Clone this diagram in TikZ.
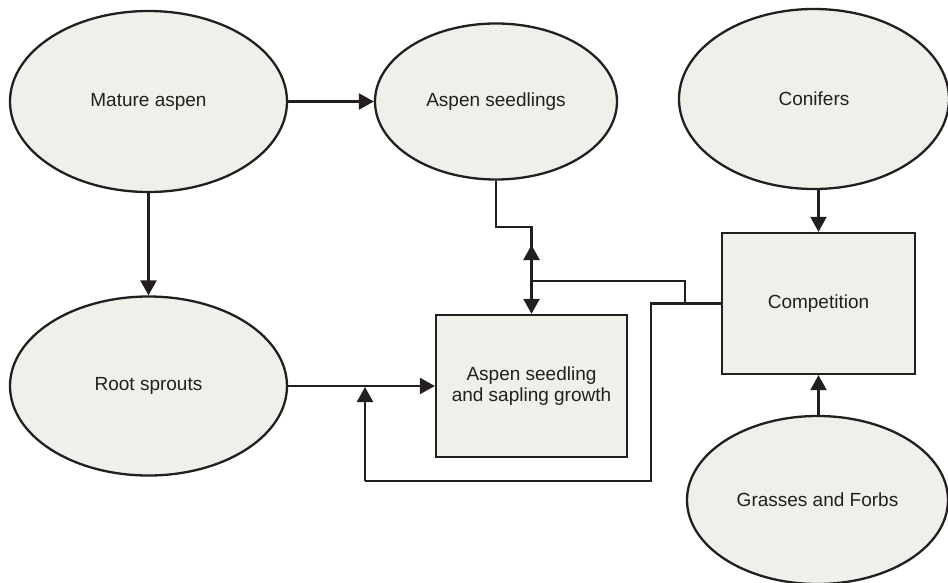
\documentclass[tikz,border=0pt]{standalone}
\usepackage{fontspec}
\setmainfont{Liberation Sans}
\usetikzlibrary{shapes.geometric,arrows.meta}
\definecolor{ink}{HTML}{231F20}
\definecolor{fillc}{HTML}{EEF0EA}
\begin{document}
\begin{tikzpicture}[x=1pt,y=-1pt,
  oval/.style={ellipse, draw=ink, fill=fillc, line width=2.3pt, inner sep=0pt, text=ink,
    font=\fontsize{19}{21.5}\selectfont},
  boxn/.style={rectangle, draw=ink, fill=fillc, line width=2.3pt, inner sep=0pt, text=ink,
    align=center, font=\fontsize{19}{21.5}\selectfont},
  conn/.style={draw=ink, line width=2.3pt},
  arr/.style={conn, -{Triangle[length=15pt,width=16pt]}}
]
\useasboundingbox (0,0) rectangle (948,583);

\node[oval, minimum width=277pt, minimum height=181pt] (ma) at (148.5,101.5) {Mature aspen};
\node[oval, minimum width=242pt, minimum height=156pt] (as) at (496,101.5) {Aspen seedlings};
\node[oval, minimum width=270pt, minimum height=180pt] (co) at (814,99) {Conifers};
\node[oval, minimum width=277pt, minimum height=179pt] (rs) at (148.5,386) {Root sprouts};
\node[oval, minimum width=261pt, minimum height=168pt] (gf) at (817.5,500) {Grasses and Forbs};

\node[boxn, minimum width=191pt, minimum height=142pt] (sg) at (531.5,386) {Aspen seedling\\and sapling growth};
\node[boxn, minimum width=193pt, minimum height=141pt] (cp) at (818.5,303.5) {Competition};

\coordinate (k1) at (531.5,227);
\coordinate (k2) at (531.5,281);
\coordinate (tipA) at (531.5,245);
\coordinate (k3) at (685,303.5);
\coordinate (k4) at (651,303.5);
\coordinate (k5) at (651,481);
\coordinate (k6) at (365,481);
\coordinate (tipB) at (365,387);

\draw[arr] (ma.east) -- (as.west);
\draw[arr] (ma.south) -- (rs.north);
\draw[conn] (as.south) |- (k1) -- (k2);
\draw[arr] (k2) -- (tipA);
\draw[arr] (k2) -- (sg.north);
\draw[conn] (k3) |- (k2);
\draw[conn] (cp.west) -- (k4) -- (k5) -- (k6);
\draw[arr] (k6) -- (tipB);
\draw[arr] (rs.east) -- (sg.west);
\draw[arr] (co.south -| cp.north) -- (cp.north);
\draw[arr] (gf.north -| cp.south) -- (cp.south);
\end{tikzpicture}
\end{document}
